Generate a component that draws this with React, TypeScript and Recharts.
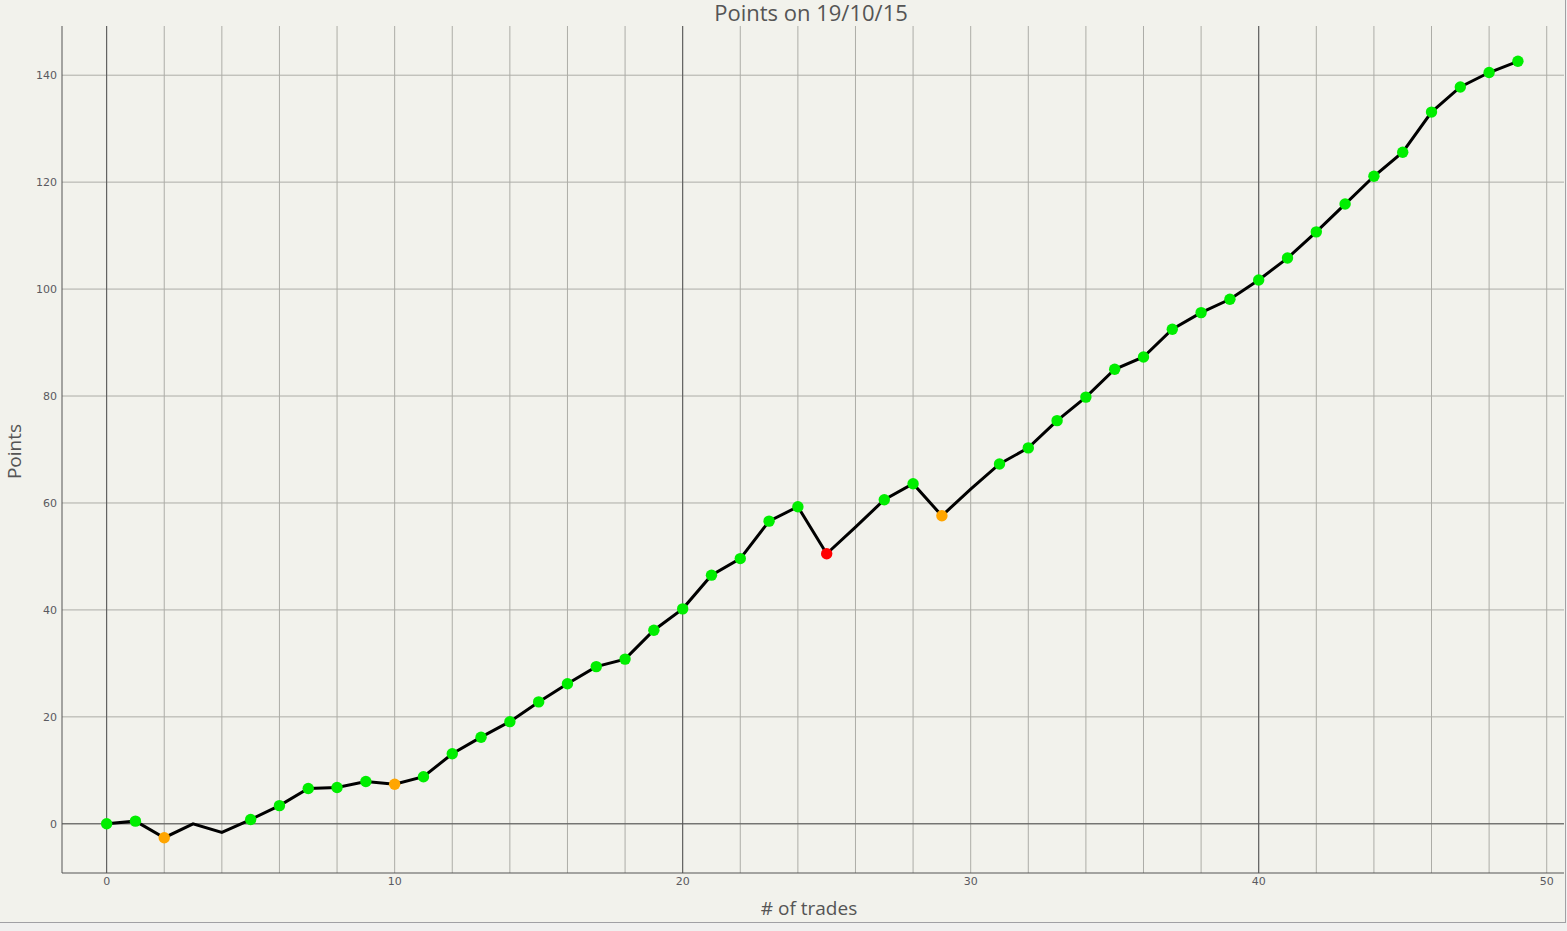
import React from 'react';
import { LineChart, Line, XAxis, YAxis, CartesianGrid, ReferenceLine } from 'recharts';

const trades = [0, 1, 2, 3, 4, 5, 6, 7, 8, 9, 10, 11, 12, 13, 14, 15, 16, 17, 18, 19, 20, 21, 22, 23, 24, 25, 26, 27, 28, 29, 30, 31, 32, 33, 34, 35, 36, 37, 38, 39, 40, 41, 42, 43, 44, 45, 46, 47, 48, 49];
const points = [0, 0.5, -2.6, 0, -1.6, 0.8, 3.4, 6.6, 6.8, 7.9, 7.4, 8.8, 13.1, 16.2, 19.1, 22.8, 26.2, 29.4, 30.8, 36.2, 40.2, 46.5, 49.6, 56.6, 59.3, 50.5, 55.5, 60.6, 63.6, 57.6, 62.6, 67.3, 70.3, 75.4, 79.8, 85.0, 87.3, 92.5, 95.6, 98.1, 101.7, 105.8, 110.7, 115.9, 121.1, 125.6, 133.1, 137.8, 140.5, 142.6];
const outcomes = ['win', 'win', 'flat', 'none', 'none', 'win', 'win', 'win', 'win', 'win', 'flat', 'win', 'win', 'win', 'win', 'win', 'win', 'win', 'win', 'win', 'win', 'win', 'win', 'win', 'win', 'loss', 'none', 'win', 'win', 'flat', 'none', 'win', 'win', 'win', 'win', 'win', 'win', 'win', 'win', 'win', 'win', 'win', 'win', 'win', 'win', 'win', 'win', 'win', 'win', 'win'];
const xTicks = [0, 2, 4, 6, 8, 10, 12, 14, 16, 18, 20, 22, 24, 26, 28, 30, 32, 34, 36, 38, 40, 42, 44, 46, 48, 50];
const yTicks = [0, 20, 40, 60, 80, 100, 120, 140];
const darkX = [0, 20, 40];
const xDomain: [number, number] = [-1.55, 50.6];
const yDomain: [number, number] = [-9.2, 149.2];
const title = 'Points on 19/10/15';
const xLabel = '# of trades';
const yLabel = 'Points';

const data = trades.map((t, i) => ({ t, p: points[i], o: outcomes[i] }));

const colorOf: Record<string, string> = { win: '#00ee00', flat: '#ffa500', loss: '#ff0000' };

const renderDot = (props: any) => {
  const { cx, cy, index } = props;
  const c = colorOf[outcomes[index]];
  if (!c) return <g key={`d${index}`} />;
  return <circle key={`d${index}`} cx={cx} cy={cy} r={5.7} fill={c} stroke="none" />;
};

const tickStyle = { fontFamily: 'DejaVu Sans', fontSize: 11, fill: '#5a5a60' };

const applyScale = (axis: any, v: number): number | null => {
  const s = axis?.scale;
  try {
    if (typeof s === 'function') return s(v);
    if (s && typeof s.map === 'function') return s.map(v);
    if (s && typeof s.apply === 'function') return s.apply(v);
  } catch (e) {
    return null;
  }
  return null;
};

const hGen = (props: any) => {
  const off = props?.offset || { top: 26, height: 847 };
  return yTicks.map((v) => {
    const r = applyScale(props?.yAxis, v);
    if (typeof r === 'number' && isFinite(r)) return r;
    return off.top + (off.height * (yDomain[1] - v)) / (yDomain[1] - yDomain[0]);
  });
};
const vGen = (props: any) => {
  const off = props?.offset || { left: 62, width: 1502 };
  return xTicks.map((v) => {
    const r = applyScale(props?.xAxis, v);
    if (typeof r === 'number' && isFinite(r)) return r;
    return off.left + (off.width * (v - xDomain[0])) / (xDomain[1] - xDomain[0]);
  });
};

export default function App() {
  return (
    <div style={{ position: 'absolute', left: 0, top: 0, width: 1567, height: 931, background: '#f0f0ef', overflow: 'hidden' }}>
      <div style={{ position: 'absolute', left: 0, top: 0, width: 1565, height: 922, background: '#f2f2ec', borderRight: '1px solid #a0a0a4', borderBottom: '1px solid #a0a0a4' }}>
        <LineChart width={1565} height={922} data={data} margin={{ top: 26, right: 1, left: 0, bottom: 0 }}>
          <CartesianGrid
            stroke="#adada7"
            strokeWidth={1}
            horizontalCoordinatesGenerator={hGen}
            verticalCoordinatesGenerator={vGen}
          />
          {darkX.map((x) => (
            <ReferenceLine key={`rx${x}`} x={x} stroke="#555555" strokeWidth={1} />
          ))}
          <ReferenceLine y={0} stroke="#555555" strokeWidth={1} />
          <XAxis
            dataKey="t"
            type="number"
            domain={xDomain}
            allowDataOverflow
            ticks={xTicks}
            interval={0}
            tickFormatter={(v: number) => (v % 10 === 0 ? String(v) : '')}
            tickLine={false}
            tickSize={0}
            tickMargin={4}
            axisLine={{ stroke: '#555555' }}
            tick={tickStyle}
            height={49}
            label={{ value: xLabel, position: 'insideBottom', offset: 7, dx: -4, style: { fontFamily: 'Open Sans', fontSize: 19, fill: '#555555' } }}
          />
          <YAxis
            type="number"
            domain={yDomain}
            allowDataOverflow
            ticks={yTicks}
            interval={0}
            tickLine={false}
            tickSize={0}
            tickMargin={5}
            axisLine={{ stroke: '#555555' }}
            tick={tickStyle}
            width={62}
            label={{
              content: (props: any) => {
                const vb = props.viewBox || { x: 0, y: 26, height: 847 };
                const cy = vb.y + vb.height / 2 + 2;
                return (
                  <text x={21} y={cy} transform={`rotate(-90, 21, ${cy})`} textAnchor="middle" fontFamily="Open Sans" fontSize={19} fill="#555555">
                    {yLabel}
                  </text>
                );
              },
            }}
          />
          <Line
            type="linear"
            dataKey="p"
            stroke="#000000"
            strokeWidth={3}
            dot={renderDot}
            activeDot={false}
            isAnimationActive={false}
          />
        </LineChart>
        <svg width={1565} height={40} style={{ position: 'absolute', left: 0, top: 0, pointerEvents: 'none', overflow: 'visible' }}>
          <text x={811} y={21} textAnchor="middle" fontFamily="Open Sans" fontSize={22} fill="#555555">
            {title}
          </text>
        </svg>
      </div>
    </div>
  );
}
